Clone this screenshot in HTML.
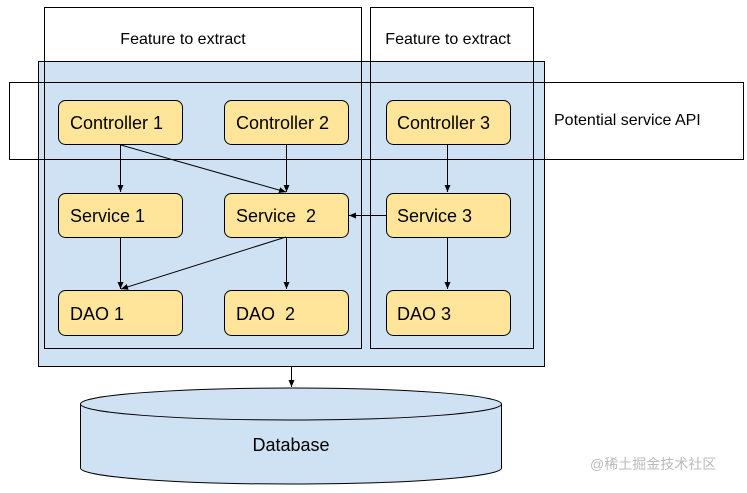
<!DOCTYPE html>
<html><head><meta charset="utf-8"><style>
body{margin:0;background:#fff;}
text{white-space:pre;}
</style></head><body>
<svg width="747" height="488" xmlns="http://www.w3.org/2000/svg" font-family="Liberation Sans, Arial, sans-serif">
<defs><marker id="a" markerWidth="8" markerHeight="8" refX="7" refY="4" orient="auto" markerUnits="userSpaceOnUse"><path d="M0,1 L7,4 L0,7 z" fill="#000"/></marker></defs>
<rect x="0" y="0" width="747" height="488" fill="#fff"/>
<rect x="44.5" y="7.5" width="317" height="341" fill="#fff" stroke="#000"/>
<rect x="370.5" y="7.5" width="163" height="341" fill="#fff" stroke="#000"/>
<rect x="38.5" y="61.5" width="506" height="305" fill="#cfe2f3" stroke="#000"/>
<rect x="44.5" y="61.5" width="317" height="287" fill="none" stroke="#000"/>
<rect x="370.5" y="61.5" width="163" height="287" fill="none" stroke="#000"/>
<text x="183" y="44" font-size="16" text-anchor="middle">Feature to extract</text>
<text x="448" y="44" font-size="16" text-anchor="middle">Feature to extract</text>
<rect x="9.5" y="82.5" width="734" height="77" fill="none" stroke="#000"/>
<text x="554" y="125" font-size="16">Potential service API</text>
<g fill="#ffe599" stroke="#000">
<rect x="58.5" y="100.5" width="124" height="44" rx="7"/>
<rect x="224.5" y="100.5" width="124" height="44" rx="7"/>
<rect x="386.5" y="100.5" width="124" height="44" rx="7"/>
<rect x="58.5" y="193.5" width="124" height="44" rx="7"/>
<rect x="224.5" y="193.5" width="124" height="44" rx="7"/>
<rect x="386.5" y="193.5" width="124" height="44" rx="7"/>
<rect x="58.5" y="290.5" width="124" height="45" rx="7"/>
<rect x="224.5" y="290.5" width="124" height="45" rx="7"/>
<rect x="386.5" y="290.5" width="124" height="45" rx="7"/>
</g>
<g font-size="18">
<text x="70" y="129">Controller 1</text>
<text x="236" y="129">Controller 2</text>
<text x="397" y="129">Controller 3</text>
<text x="70" y="222">Service 1</text>
<text x="236" y="222" xml:space="preserve">Service  2</text>
<text x="397" y="222">Service 3</text>
<text x="70" y="320">DAO 1</text>
<text x="236" y="320" xml:space="preserve">DAO  2</text>
<text x="397" y="320">DAO 3</text>
</g>
<g stroke="#000" stroke-width="1" marker-end="url(#a)">
<line x1="120.5" y1="145" x2="120.5" y2="192"/>
<line x1="121" y1="145" x2="286" y2="192"/>
<line x1="286.5" y1="145" x2="286.5" y2="192"/>
<line x1="447.5" y1="145" x2="447.5" y2="192"/>
<line x1="386" y1="215.5" x2="349" y2="215.5"/>
<line x1="120.5" y1="237" x2="120.5" y2="289"/>
<line x1="286" y1="237" x2="121" y2="289"/>
<line x1="286.5" y1="237" x2="286.5" y2="289"/>
<line x1="447.5" y1="237" x2="447.5" y2="289"/>
<line x1="291.5" y1="366" x2="291.5" y2="387"/>
</g>
<path d="M80.5,404 L80.5,468 A210,16 0 0 0 501.5,468 L501.5,404" fill="#cfe2f3" stroke="#000"/>
<ellipse cx="291" cy="404" rx="210.5" ry="16" fill="#cfe2f3" stroke="#000"/>
<text x="291" y="451" font-size="18" text-anchor="middle">Database</text>
<text x="590" y="469" font-size="14" fill="#bbb" font-family="Liberation Sans, Noto Sans CJK SC, sans-serif">@稀土掘金技术社区</text>
</svg>
</body></html>
